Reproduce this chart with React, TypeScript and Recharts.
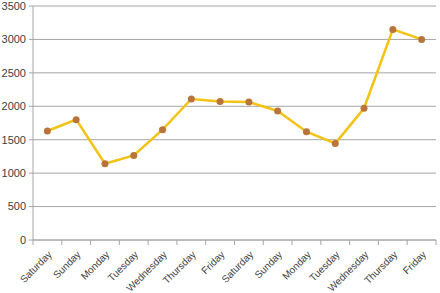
import React from "react";
import { CartesianGrid, Line, LineChart, XAxis, YAxis } from "recharts";

const days = [
  "Saturday",
  "Sunday",
  "Monday",
  "Tuesday",
  "Wednesday",
  "Thursday",
  "Friday",
  "Saturday",
  "Sunday",
  "Monday",
  "Tuesday",
  "Wednesday",
  "Thursday",
  "Friday",
];
const values = [1630, 1800, 1140, 1265, 1650, 2110, 2070, 2065, 1930, 1620, 1445, 1970, 3150, 3000];
const yTicks = [0, 500, 1000, 1500, 2000, 2500, 3000, 3500];

// categories sit in the middle of each band, tick marks on the band edges
const data = days.map((day, i) => ({ pos: i + 0.5, day, value: values[i] }));
const xTicks = Array.from({ length: days.length * 2 + 1 }, (_, i) => i / 2);

const FONT = "'Liberation Sans', Arial, sans-serif";

function DayTick(props: any) {
  const { x, y, payload } = props;
  const v = payload.value as number;
  if (Number.isInteger(v)) {
    return <line x1={x} x2={x} y1={y} y2={y + 5} stroke="#A6A6A6" />;
  }
  const label = days[Math.floor(v)];
  return (
    <text
      transform={`translate(${x + 3},${y + 13}) rotate(-45)`}
      textAnchor="end"
      dy={3}
      fontSize={10}
      fontFamily={FONT}
      fill="#404040"
    >
      {label}
    </text>
  );
}

export default function App() {
  return (
    <div style={{ position: "absolute", left: 0, top: 0, background: "#fff" }}>
      <LineChart
        width={440}
        height={293}
        data={data}
        margin={{ top: 6, right: 4, left: 0, bottom: 0 }}
      >
        <CartesianGrid vertical={false} stroke="#A6A6A6" />
        <XAxis
          type="number"
          dataKey="pos"
          domain={[0, days.length]}
          ticks={xTicks}
          interval={0}
          height={53}
          tickSize={0}
          tickMargin={0}
          tickLine={false}
          axisLine={{ stroke: "#A6A6A6" }}
          tick={<DayTick />}
        />
        <YAxis
          domain={[0, 3500]}
          ticks={yTicks}
          width={33}
          tickSize={4}
          tickMargin={3}
          tickLine={{ stroke: "#A6A6A6" }}
          axisLine={{ stroke: "#A6A6A6" }}
          tick={{ fontSize: 11, fill: "#404040", fontFamily: FONT }}
        />
        <Line
          type="linear"
          dataKey="value"
          stroke="#F2C314"
          strokeWidth={2.5}
          dot={{ r: 3.5, fill: "#B8743A", stroke: "none" }}
          isAnimationActive={false}
        />
      </LineChart>
    </div>
  );
}
